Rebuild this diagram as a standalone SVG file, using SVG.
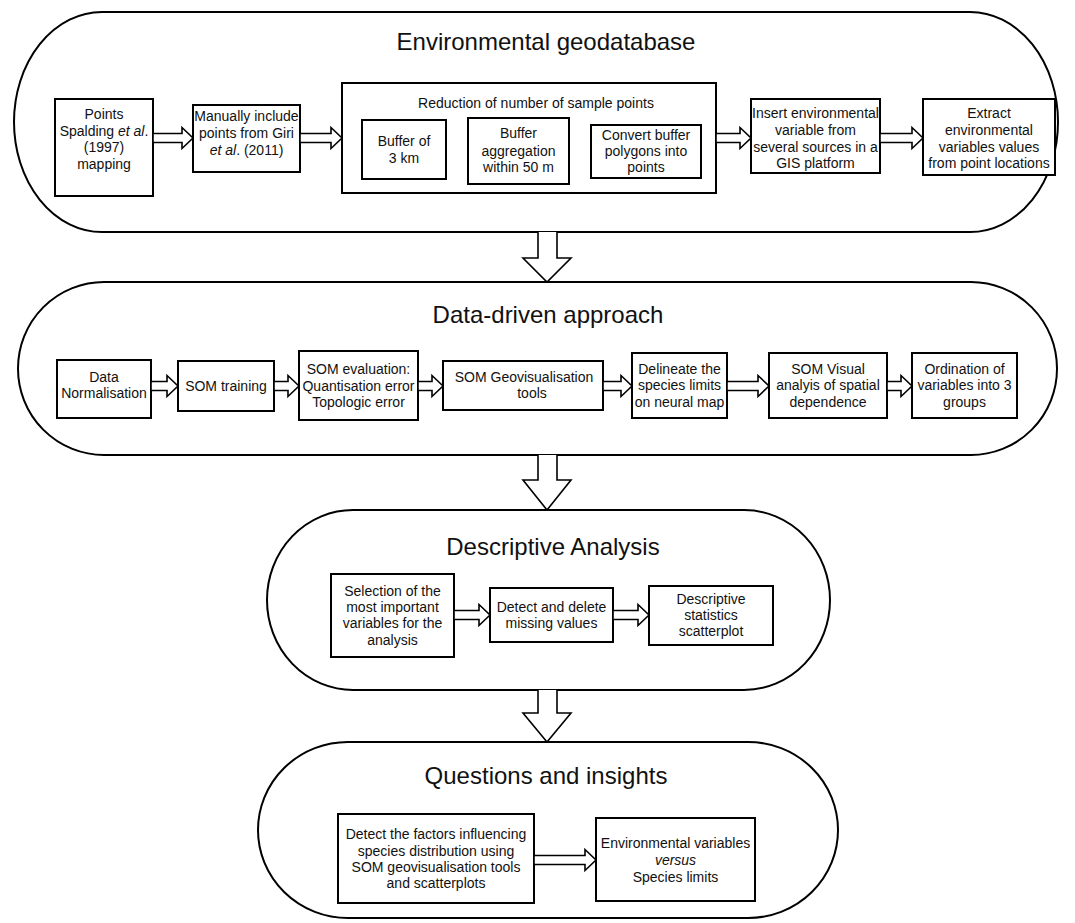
<svg xmlns="http://www.w3.org/2000/svg" width="1075" height="923" viewBox="0 0 1075 923">
<style>
.stad{fill:none;stroke:#000;stroke-width:2}
.box{fill:#fff;stroke:#000;stroke-width:2}
.arr{fill:#fff;stroke:#000;stroke-width:1.6;stroke-linejoin:miter}
text{font-family:"Liberation Sans",Arial,sans-serif;fill:#111;text-anchor:middle}
.t{font-size:14px}
.h{font-size:24px}
.i{font-style:italic}
</style>
<rect width="1075" height="923" fill="#fff"/>
<g id="stage1">
<rect class="stad" x="14" y="12" width="1044" height="220" rx="88" ry="110"/>
<text class="h" x="546" y="50">Environmental geodatabase</text>
</g>
<g id="stage2">
<rect class="stad" x="18" y="282" width="1039" height="173" rx="86" ry="86.5"/>
<text class="h" x="548" y="323">Data-driven approach</text>
</g>
<g id="stage3">
<rect class="stad" x="267" y="510" width="563" height="180" rx="86" ry="90"/>
<text class="h" x="553" y="555">Descriptive Analysis</text>
</g>
<g id="stage4">
<rect class="stad" x="258" y="742" width="580" height="176" rx="90" ry="88"/>
<text class="h" x="546" y="784">Questions and insights</text>
</g>
<g id="n-points">
<rect class="box" x="55" y="99" width="98" height="97"/>
<text class="t" x="104" y="119">Points</text>
<text class="t" x="104" y="136">Spalding <tspan class="i">et al</tspan>.</text>
<text class="t" x="104" y="152">(1997)</text>
<text class="t" x="104" y="169">mapping</text>
</g>
<g id="n-manual">
<rect class="box" x="193" y="105" width="107" height="67"/>
<text class="t" x="246.5" y="121">Manually include</text>
<text class="t" x="246.5" y="138">points from Giri</text>
<text class="t" x="246.5" y="155"><tspan class="i">et al</tspan>. (2011)</text>
</g>
<g id="n-reduction">
<rect class="box" x="342" y="83" width="374" height="110"/>
<text class="t" x="536" y="108">Reduction of number of sample points</text>
</g>
<g id="n-buffer3">
<rect class="box" x="362" y="120" width="84" height="59"/>
<text class="t" x="404" y="146">Buffer of</text>
<text class="t" x="404" y="163">3 km</text>
</g>
<g id="n-bufagg">
<rect class="box" x="468" y="118" width="101" height="66"/>
<text class="t" x="518.5" y="138">Buffer</text>
<text class="t" x="518.5" y="156">aggregation</text>
<text class="t" x="518.5" y="172">within 50 m</text>
</g>
<g id="n-convert">
<rect class="box" x="591" y="125" width="110" height="53"/>
<text class="t" x="646" y="140">Convert buffer</text>
<text class="t" x="646" y="156">polygons into</text>
<text class="t" x="646" y="172">points</text>
</g>
<g id="n-insert">
<rect class="box" x="751" y="99" width="129" height="74"/>
<text class="t" x="815.5" y="118">Insert environmental</text>
<text class="t" x="815.5" y="135">variable from</text>
<text class="t" x="815.5" y="152">several sources in a</text>
<text class="t" x="815.5" y="168">GIS platform</text>
</g>
<g id="n-extract">
<rect class="box" x="923" y="99" width="132" height="76"/>
<text class="t" x="989" y="118">Extract</text>
<text class="t" x="989" y="135">environmental</text>
<text class="t" x="989" y="152">variables values</text>
<text class="t" x="989" y="168">from point locations</text>
</g>
<g id="n-norm">
<rect class="box" x="57" y="360" width="94" height="58"/>
<text class="t" x="104" y="382">Data</text>
<text class="t" x="104" y="398">Normalisation</text>
</g>
<g id="n-train">
<rect class="box" x="178" y="361" width="96" height="50"/>
<text class="t" x="226" y="391">SOM training</text>
</g>
<g id="n-eval">
<rect class="box" x="299" y="351" width="119" height="69"/>
<text class="t" x="358.5" y="374">SOM evaluation:</text>
<text class="t" x="358.5" y="391">Quantisation error</text>
<text class="t" x="358.5" y="407">Topologic error</text>
</g>
<g id="n-geovis">
<rect class="box" x="443" y="361" width="160" height="49"/>
<text class="t" x="524" y="382">SOM Geovisualisation</text>
<text class="t" x="532" y="398">tools</text>
</g>
<g id="n-delineate">
<rect class="box" x="632" y="353" width="95" height="65"/>
<text class="t" x="679.5" y="374">Delineate the</text>
<text class="t" x="679.5" y="390">species limits</text>
<text class="t" x="679.5" y="407">on neural map</text>
</g>
<g id="n-visual">
<rect class="box" x="769" y="353" width="118" height="65"/>
<text class="t" x="828" y="374">SOM Visual</text>
<text class="t" x="828" y="390">analyis of spatial</text>
<text class="t" x="828" y="407">dependence</text>
</g>
<g id="n-ordination">
<rect class="box" x="912" y="353" width="105" height="65"/>
<text class="t" x="964.5" y="374">Ordination of</text>
<text class="t" x="964.5" y="390">variables into 3</text>
<text class="t" x="964.5" y="407">groups</text>
</g>
<g id="n-selection">
<rect class="box" x="331" y="574" width="123" height="83"/>
<text class="t" x="392.5" y="596">Selection of the</text>
<text class="t" x="392.5" y="612">most important</text>
<text class="t" x="392.5" y="628">variables for the</text>
<text class="t" x="392.5" y="645">analysis</text>
</g>
<g id="n-missing">
<rect class="box" x="490" y="588" width="123" height="54"/>
<text class="t" x="551.5" y="612">Detect and delete</text>
<text class="t" x="551.5" y="628">missing values</text>
</g>
<g id="n-stats">
<rect class="box" x="649" y="586" width="124" height="59"/>
<text class="t" x="711" y="604">Descriptive</text>
<text class="t" x="711" y="620">statistics</text>
<text class="t" x="711" y="636">scatterplot</text>
</g>
<g id="n-factors">
<rect class="box" x="338" y="814" width="196" height="89"/>
<text class="t" x="436" y="839">Detect the factors influencing</text>
<text class="t" x="436" y="856">species distribution using</text>
<text class="t" x="436" y="872">SOM geovisualisation tools</text>
<text class="t" x="436" y="888">and scatterplots</text>
</g>
<g id="n-envvar">
<rect class="box" x="596" y="818" width="159" height="83"/>
<text class="t" x="675.5" y="848">Environmental variables</text>
<text class="t i" x="675.5" y="865">versus</text>
<text class="t" x="675.5" y="882">Species limits</text>
</g>
<g id="connectors">
<path class="arr" d="M153,133.5 H182 V127.5 L193,138 L182,148.5 V142.5 H153 Z"/>
<path class="arr" d="M300,133.5 H331 V127.5 L342,138 L331,148.5 V142.5 H300 Z"/>
<path class="arr" d="M716,133.5 H740 V127.5 L751,138 L740,148.5 V142.5 H716 Z"/>
<path class="arr" d="M880,133.5 H912 V127.5 L923,138 L912,148.5 V142.5 H880 Z"/>
<path class="arr" d="M151,381.5 H167 V375.5 L178,386 L167,396.5 V390.5 H151 Z"/>
<path class="arr" d="M274,381.5 H288 V375.5 L299,386 L288,396.5 V390.5 H274 Z"/>
<path class="arr" d="M418,381.5 H432 V375.5 L443,386 L432,396.5 V390.5 H418 Z"/>
<path class="arr" d="M603,381.5 H621 V375.5 L632,386 L621,396.5 V390.5 H603 Z"/>
<path class="arr" d="M727,381.5 H758 V375.5 L769,386 L758,396.5 V390.5 H727 Z"/>
<path class="arr" d="M887,381.5 H901 V375.5 L912,386 L901,396.5 V390.5 H887 Z"/>
<path class="arr" d="M454,610.5 H479 V604.5 L490,615 L479,625.5 V619.5 H454 Z"/>
<path class="arr" d="M613,610.5 H638 V604.5 L649,615 L638,625.5 V619.5 H613 Z"/>
<path class="arr" d="M534,855.5 H585 V849.5 L596,860 L585,870.5 V864.5 H534 Z"/>
<path class="arr" d="M538,232 V258 H523 L547,282 L571,258 H557 V232"/>
<path class="arr" d="M538,455 V480 H523 L547,510 L571,480 H557 V455"/>
<path class="arr" d="M538,690 V713 H523 L547,742 L571,713 H557 V690"/>
</g>
</svg>
